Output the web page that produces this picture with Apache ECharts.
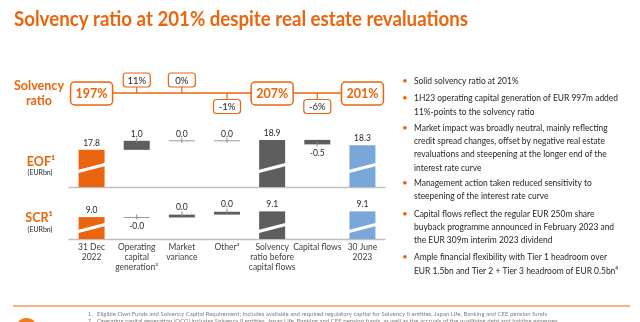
<!DOCTYPE html>
<html><head><meta charset="utf-8">
<script src="https://cdn.jsdelivr.net/npm/echarts@6/dist/echarts.min.js"></script>
<style>html,body{margin:0;padding:0;background:#fff}#c{width:640px;height:322px}</style>
</head><body><div id="c"></div>
<script>
// ---------------- data ----------------
const categories = ['31 Dec\n2022','Operating\ncapital\ngeneration²','Market\nvariance','Other³','Solvency\nratio before\ncapital flows','Capital flows','30 June\n2023'];
const barKinds = ['start','delta','delta','delta','subtotal','delta','end'];
const eofValues = [17.8, 1.0, 0.0, 0.0, 18.9, -0.5, 18.3];
const eofLabels = ['17.8','1.0','0.0','0.0','18.9','-0.5','18.3'];
const scrValues = [9.02, -0.004, 0.03, 0.03, 9.08, null, 9.08];
const scrLabels = ['9.0','-0.0','0.0','0.0','9.1','','9.1'];
const ratioLabels = ['197%','11%','0%','-1%','207%','-6%','201%'];
const titleText = 'Solvency ratio at 201% despite real estate revaluations';
const bullets = [
  ['Solid solvency ratio at 201%'],
  ['1H23 operating capital generation of EUR 997m added','11%-points to the solvency ratio'],
  ['Market impact was broadly neutral, mainly reflecting','credit spread changes, offset by negative real estate','revaluations and steepening at the longer end of the','interest rate curve'],
  ['Management action taken reduced sensitivity to','steepening of the interest rate curve'],
  ['Capital flows reflect the regular EUR 250m share','buyback programme announced in February 2023 and','the EUR 309m interim 2023 dividend'],
  ['Ample financial flexibility with Tier 1 headroom over','EUR 1.5bn and Tier 2 + Tier 3 headroom of EUR 0.5bn⁴']
];
const footnotes = [
  ['1.','Eligible Own Funds and Solvency Capital Requirement; Includes available and required regulatory capital for Solvency II entities, Japan Life, Banking and CEE pension funds'],
  ['2.','Operating capital generation (OCG) includes Solvency II entities, Japan Life, Banking and CEE pension funds, as well as the accruals of the qualifying debt and holding expenses']
];

// ---------------- style ----------------
const ORANGE = '#EA650D', GREY = '#5E5E5E', BLUE = '#7AA7DA', TXT = '#262626';
const FONT = 'Lato, "Open Sans", sans-serif';
const mctx = document.createElement('canvas').getContext('2d');
function fit(text, font, w){ mctx.font = font; return w / mctx.measureText(text).width; }
function colorOf(k){ return k === 'start' ? ORANGE : (k === 'end' ? BLUE : GREY); }

function buildRows(values, labels){
  const rows = []; let running = 0;
  values.forEach((v, i) => {
    if (v === null) return;
    const k = barKinds[i];
    if (k !== 'delta') { rows.push({i, lo: v, hi: v, kind: k, label: labels[i], neg: false}); running = v; }
    else { rows.push({i, lo: running, hi: running + v, kind: k, label: labels[i], neg: labels[i].charAt(0) === '-'}); running += v; }
  });
  return rows;
}
const eofRows = buildRows(eofValues, eofLabels);
const scrRows = buildRows(scrValues, scrLabels);

function makeBarRender(rows, breakOffset){
  return function(params, api){
    const r = rows[params.dataIndex];
    const cs = params.coordSys;
    const bw = 26;
    const pHi = api.coord([r.i, r.hi]);
    const xc = pHi[0];
    const yHi = pHi[1];
    const yLo = r.kind === 'delta' ? api.coord([r.i, r.lo])[1] : cs.y + cs.height;
    const top = Math.min(yHi, yLo), bottom = Math.max(yHi, yLo);
    const ch = [];
    if (bottom - top < 1.2) {
      ch.push({type:'line', shape:{x1:xc-bw/2, y1:yHi, x2:xc+bw/2, y2:yHi}, style:{stroke:'#9a9a9a', lineWidth:1}});
    } else {
      ch.push({type:'rect', shape:{x:xc-bw/2, y:top, width:bw, height:bottom-top}, style:{fill:colorOf(r.kind)}});
    }
    if (r.kind !== 'delta') {
      const cy = bottom - breakOffset;
      ch.push({type:'polygon', shape:{points:[[xc-bw/2-1, cy+3.6+1.6],[xc+bw/2+1, cy-3.6+1.6],[xc+bw/2+1, cy-3.6-1.6],[xc-bw/2-1, cy+3.6-1.6]]}, style:{fill:'#fff'}});
    } else {
      ch.push({type:'line', shape:{x1:xc, y1:yHi-3, x2:xc, y2:yHi+2}, style:{stroke:'#8c8c8c', lineWidth:1}});
    }
    if (r.label) {
      const ly = r.neg ? bottom + 9 : top - 7;
      ch.push({type:'text', style:{text:r.label, x:xc, y:ly, textAlign:'center', textVerticalAlign:'middle', align:'center', verticalAlign:'middle', font:'8.5px ' + FONT, fill:TXT}});
    }
    return {type:'group', children: ch};
  };
}

function ratioRender(params, api){
  const i = params.dataIndex;
  const p = api.coord([i, 0]);
  const x = p[0], ly = p[1];
  const k = barKinds[i];
  const lab = ratioLabels[i];
  const ch = [];
  if (i === 0) {
    const pe = api.coord([ratioLabels.length - 1, 0]);
    ch.push({type:'line', z2:0, shape:{x1:x, y1:ly, x2:pe[0], y2:ly}, style:{stroke:ORANGE, lineWidth:1.5}});
  }
  if (k !== 'delta') {
    const w = 42, h = 23, cy = ly + 0.5;
    ch.push({type:'rect', z2:10, shape:{x:x-w/2, y:cy-h/2, width:w, height:h, r:4}, style:{fill:'#fff', stroke:ORANGE, lineWidth:1.5}});
    ch.push({type:'text', z2:11, style:{text:lab, x:x, y:cy+0.5, textAlign:'center', textVerticalAlign:'middle', align:'center', verticalAlign:'middle', font:'bold 12.5px ' + FONT, fill:ORANGE}});
  } else {
    const neg = lab.charAt(0) === '-';
    const w = 27, h = 14, cy = neg ? ly + 13.5 : ly - 13;
    const edge = neg ? cy - h/2 : cy + h/2;
    ch.push({type:'line', z2:5, shape:{x1:x, y1:ly, x2:x, y2:edge}, style:{stroke:ORANGE, lineWidth:1.2}});
    ch.push({type:'rect', z2:10, shape:{x:x-w/2, y:cy-h/2, width:w, height:h, r:3}, style:{fill:'#fff', stroke:ORANGE, lineWidth:1.2}});
    ch.push({type:'text', z2:11, style:{text:lab, x:x, y:cy+0.5, textAlign:'center', textVerticalAlign:'middle', align:'center', verticalAlign:'middle', font:'9.5px ' + FONT, fill:TXT}});
  }
  return {type:'group', children: ch};
}

// ---------------- graphics (text panels) ----------------
const graphics = [];
function addText(text, x, y, font, fill, align, width){
  const el = {type:'text', x:x, y:y, style:{text:text, font:font, fill:fill, textAlign:align||'left', align:align||'left', textVerticalAlign:'middle', verticalAlign:'middle'}};
  if (width) el.scaleX = fit(text, font, width);
  graphics.push(el);
  return el;
}
addText(titleText, 14, 19, 'bold 21px ' + FONT, ORANGE, 'left', 454);
const slvScale = fit('Solvency', 'bold 14px ' + FONT, 50);
let e = addText('Solvency', 39, 85, 'bold 14px ' + FONT, ORANGE, 'center'); e.scaleX = slvScale;
e = addText('ratio', 39, 100.5, 'bold 14px ' + FONT, ORANGE, 'center'); e.scaleX = slvScale;
e = addText('EOF¹', 41, 161, 'bold 14px ' + FONT, ORANGE, 'center'); e.scaleX = slvScale;
addText('(EURbn)', 40, 173, '7px ' + FONT, TXT, 'center');
e = addText('SCR¹', 39, 217.5, 'bold 14px ' + FONT, ORANGE, 'center'); e.scaleX = slvScale;
addText('(EURbn)', 40, 229.5, '7px ' + FONT, TXT, 'center');

const bulletFont = '10px ' + FONT;
const bScale = fit(bullets[1][0], bulletFont, 204);
const paraY = [81, 98, 127.5, 182.5, 213.5, 257];
bullets.forEach((para, pi) => {
  addText('•', 405, paraY[pi], '10px ' + FONT, ORANGE, 'center');
  para.forEach((line, li) => {
    const t = addText(line, 414, paraY[pi] + li * 13.3, bulletFont, TXT, 'left');
    t.scaleX = bScale;
  });
});

graphics.push({type:'line', shape:{x1:13, y1:306, x2:630, y2:306}, style:{stroke:ORANGE, lineWidth:1}});
const fnFont = '5.5px ' + FONT;
const fnScale = fit(footnotes[0][1], fnFont, 450);
footnotes.forEach((f, fi) => {
  addText(f[0], 88, 314.5 + fi * 6.5, fnFont, '#7f7f7f', 'left');
  const t = addText(f[1], 97, 314.5 + fi * 6.5, fnFont, '#7f7f7f', 'left');
  t.scaleX = fnScale;
});
graphics.push({type:'circle', shape:{cx:26.5, cy:329, r:11}, style:{fill:'#F07D1A'}});

// ---------------- chart ----------------
const axisLineStyle = {show:true, onZero:false, lineStyle:{color:'#C0C0C0', width:1.3}};
const option = {
  animation: false,
  backgroundColor: '#fff',
  grid: [
    {left:69, width:316, top:73, height:20},
    {left:69, width:316, top:100, height:87},
    {left:69, width:316, top:199, height:40}
  ],
  xAxis: [
    {gridIndex:0, type:'category', data:categories, show:false},
    {gridIndex:1, type:'category', data:categories, axisLine:axisLineStyle, axisTick:{show:false}, axisLabel:{show:false}},
    {gridIndex:2, type:'category', data:categories, axisLine:axisLineStyle, axisTick:{show:false},
      axisLabel:{show:true, interval:0, margin:3, fontSize:8.5, lineHeight:10, color:'#404040', fontFamily:FONT}}
  ],
  yAxis: [
    {gridIndex:0, type:'value', min:0, max:1, show:false},
    {gridIndex:1, type:'value', min:13.7, max:23.3, show:false},
    {gridIndex:2, type:'value', min:8.79, max:9.21, show:false}
  ],
  series: [
    {type:'custom', xAxisIndex:0, yAxisIndex:0, data: ratioLabels.map((l, i) => [i, 0]), renderItem: ratioRender, silent:true},
    {type:'custom', xAxisIndex:1, yAxisIndex:1, data: eofRows.map(r => [r.i, r.lo, r.hi]), encode:{x:0, y:[1,2]}, renderItem: makeBarRender(eofRows, 19), silent:true, clip:false},
    {type:'custom', xAxisIndex:2, yAxisIndex:2, data: scrRows.map(r => [r.i, r.lo, r.hi]), encode:{x:0, y:[1,2]}, renderItem: makeBarRender(scrRows, 11), silent:true, clip:false}
  ],
  graphic: graphics
};
const chart = echarts.init(document.getElementById('c'), null, {renderer:'canvas'});
chart.setOption(option);
</script>
</body></html>
